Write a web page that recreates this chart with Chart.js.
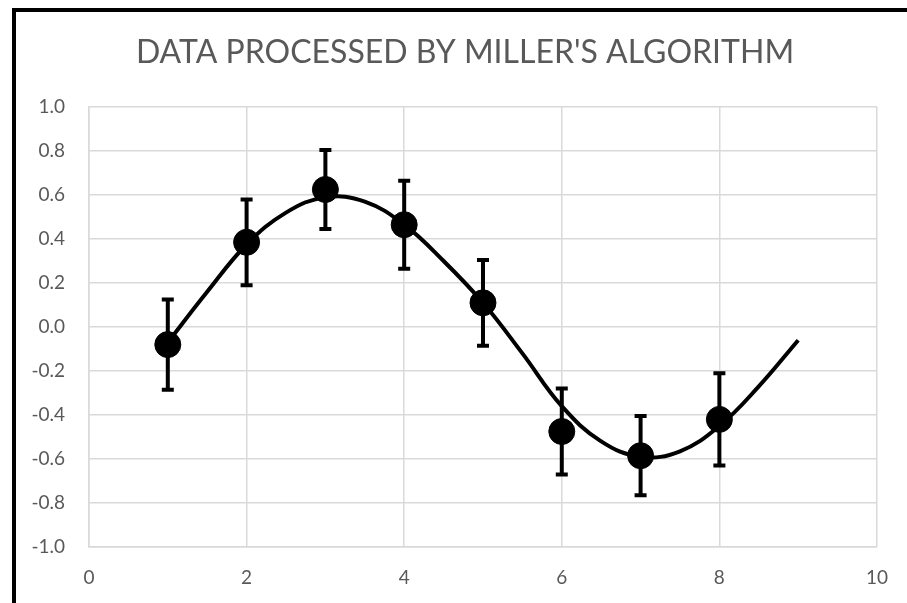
<!DOCTYPE html>
<html>
<head>
<meta charset="utf-8">
<script src="https://cdn.jsdelivr.net/npm/chart.js@4"></script>
<style>
    body { margin: 0; background: #fff; }
    #wrap { position: relative; width: 907px; height: 603px; }
    #frame { position: absolute; left: 12px; top: 8px; right: 0; bottom: 0; border-left: 4px solid #000; border-top: 4px solid #000; }
    canvas { position: absolute; left: 0; top: 0; }
</style>
</head>
<body>
<div id="wrap">
    <div id="frame"></div>
    <canvas id="millerChart" width="907" height="603"></canvas>
</div>
<script>
const xValues = [1, 2, 3, 4, 5, 6, 7, 8];
const yValues = [-0.08, 0.385, 0.625, 0.465, 0.11, -0.475, -0.585, -0.42];
const yErrors = [0.205, 0.195, 0.18, 0.2, 0.195, 0.195, 0.18, 0.21];

// fitted curve
const fitX = [1, 1.5, 2, 2.5, 3, 3.5, 4, 4.5, 5, 5.5, 6, 6.5, 7, 7.5, 8, 8.5, 9];
const fitY = [-0.07, 0.16, 0.375, 0.52, 0.59, 0.57, 0.465, 0.3, 0.11, -0.12, -0.36, -0.52, -0.59, -0.565, -0.45, -0.27, -0.06];

const xTicks = [0, 2, 4, 6, 8, 10];
const yTicks = [-1.0, -0.8, -0.6, -0.4, -0.2, 0.0, 0.2, 0.4, 0.6, 0.8, 1.0];
const chartTitle = "DATA PROCESSED BY MILLER'S ALGORITHM";

const errorBars = {
    id: "errorBars",
    afterDatasetsDraw(chart) {
        const ctx = chart.ctx;
        const xs = chart.scales.x, ys = chart.scales.y;
        ctx.save();
        ctx.strokeStyle = "#000";
        ctx.lineWidth = 4;
        xValues.forEach((x, i) => {
            const px = xs.getPixelForValue(x);
            const top = ys.getPixelForValue(yValues[i] + yErrors[i]);
            const bot = ys.getPixelForValue(yValues[i] - yErrors[i]);
            ctx.beginPath();
            ctx.moveTo(px, top);
            ctx.lineTo(px, bot);
            ctx.moveTo(px - 6, top);
            ctx.lineTo(px + 6, top);
            ctx.moveTo(px - 6, bot);
            ctx.lineTo(px + 6, bot);
            ctx.stroke();
        });
        ctx.restore();
    },
};

// title centred over the whole chart frame, like Excel does
const frameTitle = {
    id: "frameTitle",
    afterDraw(chart) {
        const ctx = chart.ctx;
        ctx.save();
        ctx.font = "32px Lato";
        ctx.fillStyle = "#595959";
        ctx.textAlign = "center";
        ctx.textBaseline = "middle";
        ctx.fillText(chartTitle, 465, 53);
        ctx.restore();
    },
};

new Chart(document.getElementById("millerChart"), {
    type: "scatter",
    data: {
        datasets: [
            {
                label: "Fit",
                data: fitX.map((x, i) => ({ x: x, y: fitY[i] })),
                showLine: true,
                borderColor: "#000",
                borderWidth: 4,
                pointRadius: 0,
                tension: 0.4,
            },
            {
                label: "Data",
                data: xValues.map((x, i) => ({ x: x, y: yValues[i] })),
                backgroundColor: "#000",
                borderColor: "#000",
                pointRadius: 13,
            },
        ],
    },
    options: {
        responsive: false,
        animation: false,
        layout: { padding: { left: 20, right: 29, top: 107, bottom: 0 } },
        plugins: {
            legend: { display: false },
            tooltip: { enabled: false },
            title: { display: false },
        },
        scales: {
            x: {
                type: "linear",
                min: 0,
                max: 10,
                afterBuildTicks: (axis) => { axis.ticks = xTicks.map((v) => ({ value: v })); },
                afterFit: (axis) => { axis.height = 56; },
                grid: { color: "#d9d9d9", lineWidth: 1.5, drawTicks: false },
                border: { color: "#d9d9d9", width: 1.5 },
                ticks: { color: "#595959", font: { family: "Lato", size: 19 }, padding: 19 },
            },
            y: {
                min: -1,
                max: 1,
                afterBuildTicks: (axis) => { axis.ticks = yTicks.map((v) => ({ value: v })); },
                afterFit: (axis) => { axis.width = 69; },
                grid: { color: "#d9d9d9", lineWidth: 1.5, drawTicks: false },
                border: { color: "#d9d9d9", width: 1.5 },
                ticks: {
                    color: "#595959",
                    font: { family: "Lato", size: 19 },
                    padding: 24,
                    callback: (v) => v.toFixed(1),
                },
            },
        },
    },
    plugins: [errorBars, frameTitle],
});
</script>
</body>
</html>
